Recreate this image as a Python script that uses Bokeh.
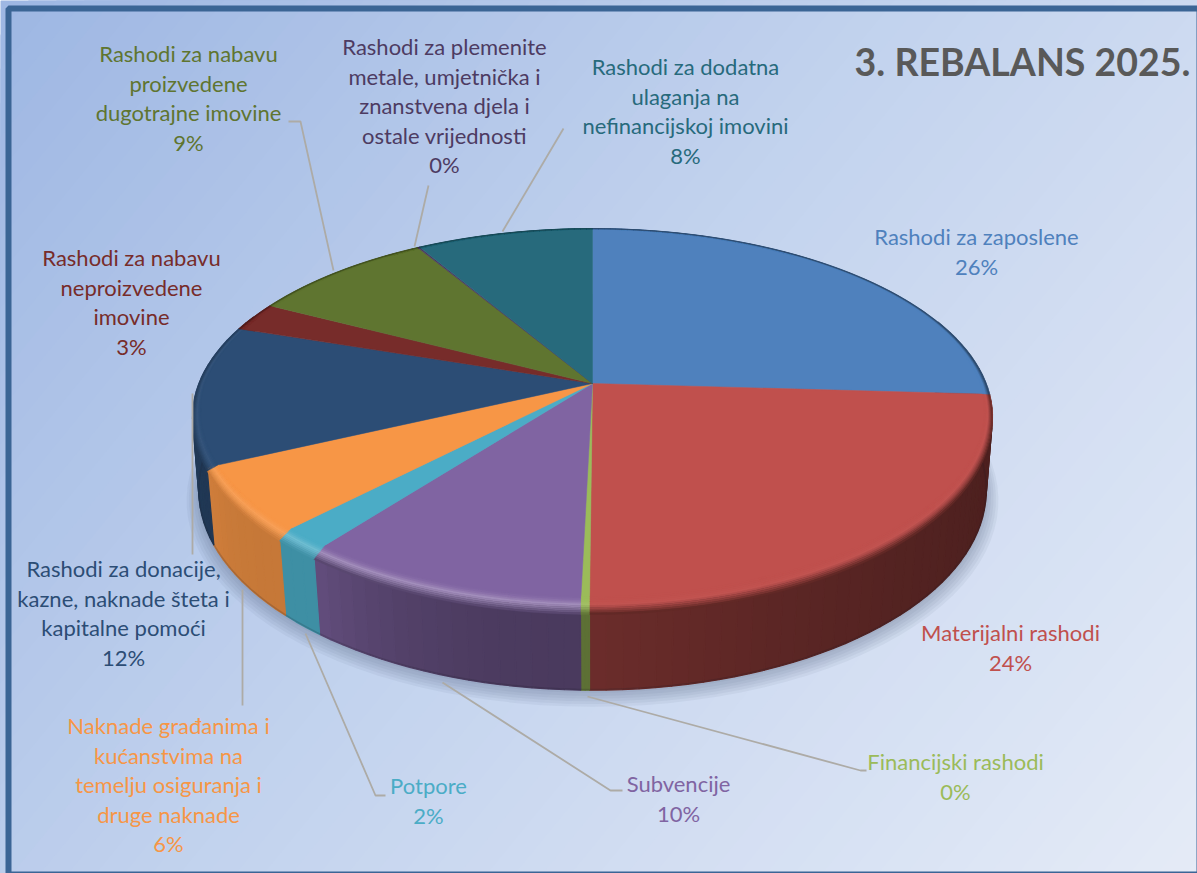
import numpy as np
from bokeh.plotting import figure
from bokeh.models import Range1d, ColumnDataSource
from bokeh.core.properties import value
from bokeh.embed import file_html
from bokeh.resources import INLINE

# ---------- data ----------
categories = ["Rashodi za zaposlene", "Materijalni rashodi", "Financijski rashodi", "Subvencije", "Potpore",
              "Naknade građanima i kućanstvima na temelju osiguranja i druge naknade",
              "Rashodi za donacije, kazne, naknade šteta i kapitalne pomoći",
              "Rashodi za nabavu neproizvedene imovine", "Rashodi za nabavu proizvedene dugotrajne imovine",
              "Rashodi za plemenite metale, umjetnička i znanstvena djela i ostale vrijednosti",
              "Rashodi za dodatna ulaganja na nefinancijskoj imovini"]
shares = [25.9, 24.15, 0.3, 10.0, 1.8, 5.8, 12.1, 2.5, 8.8, 0.1, 8.45]
percent_labels = ["26%", "24%", "0%", "10%", "2%", "6%", "12%", "3%", "9%", "0%", "8%"]
title_text = "3. REBALANS 2025."

# ---------- styles ----------
colors = ["#4F81BD", "#C0504D", "#9BBB59", "#8064A2", "#4BACC6", "#F79646",
          "#2C4D75", "#772C2A", "#5F7530", "#4D3B62", "#276A7C"]
wall_from = [.45, .40, .60, .58, .83, .80, .72, .6, .6, .6, .6]
wall_to = [.45, .56, .60, .77, .83, .84, .86, .6, .6, .6, .6]
highlight = [0, .02, .08, .27, .20, .10, .05, 0, 0, 0, 0]

label_lines = [["Rashodi za zaposlene"], ["Materijalni rashodi"], ["Financijski rashodi"], ["Subvencije"], ["Potpore"],
               ["Naknade građanima i", "kućanstvima na", "temelju osiguranja i", "druge naknade"],
               ["Rashodi za donacije,", "kazne, naknade šteta i", "kapitalne pomoći"],
               ["Rashodi za nabavu", "neproizvedene", "imovine"],
               ["Rashodi za nabavu", "proizvedene", "dugotrajne imovine"],
               ["Rashodi za plemenite", "metale, umjetnička i", "znanstvena djela i", "ostale vrijednosti"],
               ["Rashodi za dodatna", "ulaganja na", "nefinancijskoj imovini"]]
label_cx = [976, 1010, 955, 678, 428, 168, 123, 131, 188, 444, 685]
label_y0 = [236, 632, 761, 783, 785, 725, 568, 257, 53, 46, 66]
LINE_H = 29.6
FONT = "Lato"
FS = "22px"

leaders = [([288, 300, 333], [121, 121, 270]), ([428, 414], [185, 246]), ([563, 502], [128, 231]),
           ([192, 192], [393, 554]), ([242, 242], [589, 705]), ([305, 375, 385], [633, 795, 795]),
           ([442, 610, 622], [682, 790, 790]), ([587, 860, 866], [696, 770, 770])]

CX = 592
TOP = dict(a=393.6, b=182.5, k=.178, y0=383)
BOT = dict(a=388, b=194, k=.17, y0=456)


def proj(g, r, th):
    X = r * np.sin(th)
    Y = r * np.cos(th)
    d = 1 + g["k"] * Y
    return CX + g["a"] * X / d, g["y0"] - g["b"] * Y / d


def rgb(h):
    return np.array([int(h[i:i + 2], 16) for i in (1, 3, 5)], float)


def hx(c):
    c = np.clip(np.round(c), 0, 255).astype(int)
    return "#%02x%02x%02x" % tuple(c)


W, H = 1197, 873
p = figure(width=W, height=H, x_range=Range1d(0, W), y_range=Range1d(H, 0),
           output_backend="svg", toolbar_location=None, min_border=0)
p.axis.visible = False
p.grid.visible = False
p.outline_line_color = None
p.background_fill_color = "#ffffff"
p.border_fill_color = "#ffffff"

# background gradient, painted as half planes from back to front
s0, s1, s2 = rgb("#9EB7E3"), rgb("#C3D3EE"), rgb("#E2E9F6")
gx, gy = .00055, .00045
bx, by, bc = [], [], []
N = 70
for i in range(N):
    t = i / (N - 1) * 1.06
    c = s0 + (s1 - s0) * t / .5 if t < .5 else s1 + (s2 - s1) * (t - .5) / .5
    px = t / gx
    dx, dy = -gy, gx
    nrm = np.hypot(dx, dy)
    dx, dy = dx / nrm * 4000, dy / nrm * 4000
    nx, ny = gx / np.hypot(gx, gy) * 4000, gy / np.hypot(gx, gy) * 4000
    bx.append([px + dx, px - dx, px - dx + nx, px + dx + nx])
    by.append([dy, -dy, -dy + ny, dy + ny])
    bc.append(hx(c))
p.patches(bx, by, fill_color=bc, line_color=None)

# soft shadow beneath the pie
th_all = np.radians(np.arange(0, 361, 3))
for g_, off in [(1.030, 8), (1.024, 7), (1.018, 6), (1.012, 5), (1.006, 4), (1.002, 2)]:
    sx, sy = proj(BOT, g_, th_all)
    p.patch(sx, sy + off, fill_color="#44597c", fill_alpha=.065, line_color=None)

fr = np.array(shares) / sum(shares)
edges = np.concatenate([[0], np.cumsum(fr)]) * 2 * np.pi

# side wall
wx, wy, wc = [], [], []
for i, col in enumerate(colors):
    a0, a1 = edges[i], edges[i + 1]
    n = max(2, int(np.degrees(a1 - a0) / 2))
    ts = np.linspace(a0, a1, n + 1)
    base = rgb(col)
    for j in range(n):
        mid = (ts[j] + ts[j + 1]) / 2
        if np.degrees(mid) < 70 or np.degrees(mid) > 292:
            continue
        f = wall_from[i] + (wall_to[i] - wall_from[i]) * ((j + .5) / n) ** 2.2
        x0, y0 = proj(TOP, 1, ts[j:j + 2])
        x1, y1 = proj(BOT, 1, ts[j:j + 2])
        wx.append([x0[0], x0[1], x1[1], x1[0]])
        wy.append([y0[0], y0[1], y1[1], y1[0]])
        wc.append(hx(base * f))
p.patches(wx, wy, fill_color=wc, line_color=wc, line_width=1.2)

# darker lower rim of the wall
front = np.radians(np.arange(92, 272, 2))
rx, ry = proj(BOT, 1, front)
p.line(rx, ry - .7, line_color="#1d1a28", line_alpha=.18, line_width=1.5)

# top faces
tx, ty, tc = [], [], []
for i, col in enumerate(colors):
    ts = np.linspace(edges[i], edges[i + 1], max(3, int(np.degrees(edges[i + 1] - edges[i]))))
    x, y = proj(TOP, 1, ts)
    tx.append(np.r_[CX, x])
    ty.append(np.r_[TOP["y0"], y])
    tc.append(col)
p.patches(tx, ty, fill_color=tc, line_color=tc, line_width=.5)


# bevel on the rim: it starts inside the top face and spills down over the wall's upper edge
def rim_in(th):
    return .004 + .012 * np.abs(np.sin(th)) + .03 * np.maximum(0, -np.cos(th))


def rim_drop(th):
    return 9 * np.maximum(0, -np.cos(th))


BANDS = 10
for b in range(BANDS):
    f0, f1 = b / BANDS, (b + 1) / BANDS
    xs, ys, cs = [], [], []
    for i, col in enumerate(colors):
        ts = np.linspace(edges[i], edges[i + 1], max(3, int(np.degrees(edges[i + 1] - edges[i])) + 1))
        inner = 1 - rim_in(ts)
        xo, yo = proj(TOP, inner + (1 - inner) * f1, ts)
        xi, yi = proj(TOP, inner + (1 - inner) * f0, ts)
        yo = yo + rim_drop(ts) * f1
        yi = yi + rim_drop(ts) * f0
        base = rgb(col)
        hi = base + (255 - base) * highlight[i]
        wall = base * (wall_from[i] + (wall_to[i] - wall_from[i]) * .3)
        fm = (f0 + f1) / 2
        if fm < .45:
            c = base + (hi - base) * (fm / .45) ** 2
        else:
            c = hi + (wall - hi) * ((fm - .45) / .55) ** 1.2
        xs.append(np.r_[xo, xi[::-1]])
        ys.append(np.r_[yo, yi[::-1]])
        cs.append(hx(c))
    p.patches(xs, ys, fill_color=cs, line_color=cs, line_width=.3)

# leader lines
p.multi_line([l[0] for l in leaders], [l[1] for l in leaders], line_color="#ADABA6", line_width=1.8)

# labels
lx, ly, lt, lc = [], [], [], []
for i, lines in enumerate(label_lines):
    for j, s in enumerate(lines + [percent_labels[i]]):
        lx.append(label_cx[i])
        ly.append(label_y0[i] + j * LINE_H)
        lt.append(s)
        lc.append(colors[i])
src = ColumnDataSource(dict(x=lx, y=ly, text=lt, color=lc))
p.text("x", "y", text="text", source=src, text_color="color", text_align="center", text_baseline="middle",
       text_font=value(FONT), text_font_size=value(FS))
p.text([1022], [61], text=[title_text], text_color="#595959", text_align="center", text_baseline="middle",
       text_font=value(FONT), text_font_style="bold", text_font_size=value("37.5px"))

# frame
p.quad(left=[8], right=[1199], top=[8], bottom=[874], fill_color=None, line_color="#3B6595", line_width=6)

open("out.html", "w").write(file_html(p, INLINE))
